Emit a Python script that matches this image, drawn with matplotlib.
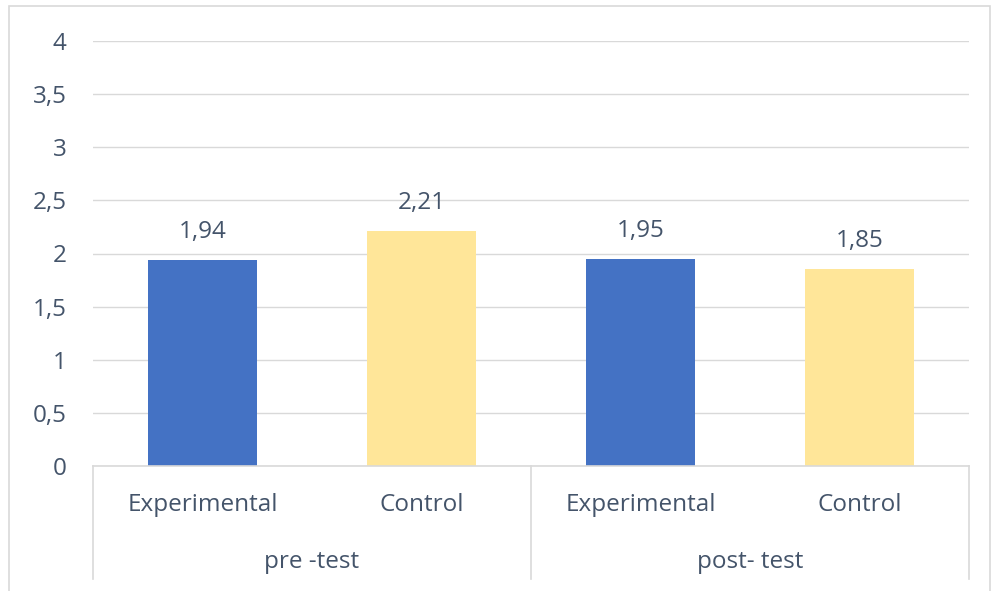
import matplotlib.pyplot as plt
from matplotlib.patches import Rectangle
from matplotlib.lines import Line2D

# data
groups = ['pre -test', 'post- test']
categories = ['Experimental', 'Control', 'Experimental', 'Control']
values = [1.94, 2.21, 1.95, 1.85]
bar_colors = ['#4472C4', '#FFE699', '#4472C4', '#FFE699']
yticks = [0, 0.5, 1, 1.5, 2, 2.5, 3, 3.5, 4]

text_col = '#44546A'
grid_col = '#D9D9D9'
fs = 17.5
plt.rcParams['font.family'] = ['Open Sans', 'DejaVu Sans']

W, H = 996, 591
fig = plt.figure(figsize=(W / 100, H / 100), dpi=100)
ax = fig.add_axes([93 / W, (H - 466) / H, (969 - 93) / W, (466 - 41) / H])

x = list(range(len(values)))
ax.bar(x, values, width=0.5, color=bar_colors, zorder=3)
for xi, v in zip(x, values):
    ax.text(xi, v + 0.15, f'{v:.2f}'.replace('.', ','), ha='center', va='bottom',
            fontsize=fs, color=text_col)

ax.set_xlim(-0.5, len(values) - 0.5)
ax.set_ylim(0, 4)
ax.set_yticks(yticks)
ax.set_yticklabels([f'{t:g}'.replace('.', ',') for t in yticks])
ax.tick_params(axis='y', length=0, pad=19, labelsize=fs, labelcolor=text_col)
ax.tick_params(axis='x', length=0, labelbottom=False)
ax.grid(axis='y', color=grid_col, linewidth=1, zorder=0)
for s in ax.spines.values():
    s.set_visible(False)

# category labels (two levels)
trans = ax.get_xaxis_transform()
for xi, c in zip(x, categories):
    ax.text(xi, -0.092, c, transform=trans, ha='center', va='center',
            fontsize=fs, color=text_col)
for gi, g in enumerate(groups):
    ax.text(gi * 2 + 0.5, -0.225, g, transform=trans, ha='center', va='center',
            fontsize=fs, color=text_col)

# axis line and group separators
ax.add_line(Line2D([-0.5, 3.5], [0, 0], transform=trans, color=grid_col,
                   linewidth=1.2, clip_on=False, zorder=4))
for sx in [-0.5, 1.5, 3.5]:
    ax.add_line(Line2D([sx, sx], [0, -0.265], transform=trans, color=grid_col,
                       linewidth=1.2, clip_on=False))

# chart border
fig.patches.append(Rectangle((9 / W, -0.01), (990 - 9) / W, (H - 6) / H + 0.01,
                             transform=fig.transFigure, fill=False,
                             edgecolor='#D9D9D9', linewidth=1.2))

fig.savefig('out.png', dpi=100)
